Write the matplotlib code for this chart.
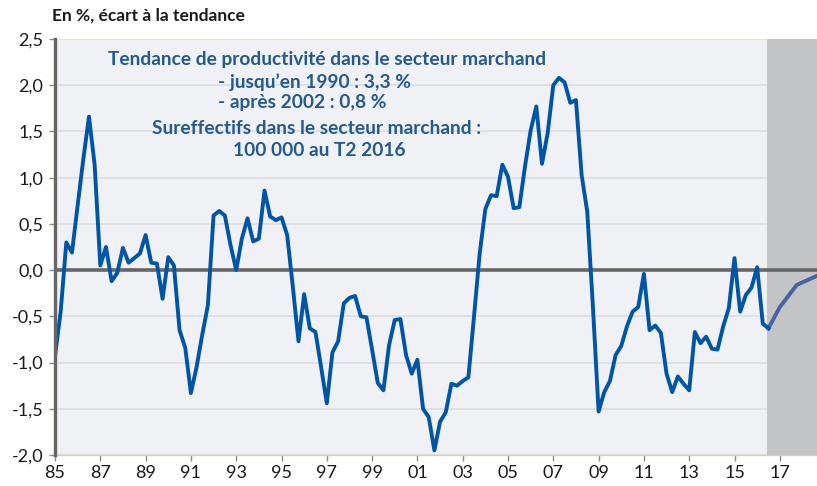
import matplotlib
matplotlib.use("Agg")
import matplotlib.pyplot as plt
import numpy as np

plt.rcParams['font.family'] = ['Lato', 'DejaVu Sans']

# écart de productivité à la tendance, trimestriel, 1985T1 -> 2016T3
start_year = 1985
hist = [-0.93, -0.45, 0.30, 0.19, 0.70, 1.20, 1.66, 1.14, 0.05, 0.25,
        -0.12, -0.03, 0.24, 0.08, 0.13, 0.18, 0.38, 0.08, 0.07, -0.31,
        0.14, 0.05, -0.65, -0.84, -1.33, -1.05, -0.70, -0.38, 0.59, 0.64,
        0.59, 0.27, 0.00, 0.34, 0.56, 0.31, 0.34, 0.86, 0.58, 0.54,
        0.57, 0.38, -0.18, -0.77, -0.26, -0.63, -0.67, -1.05, -1.44, -0.89,
        -0.77, -0.36, -0.30, -0.28, -0.50, -0.51, -0.86, -1.22, -1.30, -0.81,
        -0.54, -0.53, -0.92, -1.12, -0.97, -1.50, -1.59, -1.95, -1.64, -1.54,
        -1.23, -1.25, -1.20, -1.16, -0.50, 0.18, 0.66, 0.81, 0.80, 1.14,
        1.01, 0.67, 0.68, 1.12, 1.51, 1.77, 1.15, 1.48, 2.00, 2.08,
        2.03, 1.81, 1.84, 1.03, 0.63, -0.40, -1.53, -1.32, -1.20, -0.92,
        -0.82, -0.61, -0.45, -0.40, -0.04, -0.65, -0.60, -0.68, -1.12, -1.32,
        -1.15, -1.23, -1.30, -0.67, -0.79, -0.72, -0.85, -0.86, -0.61, -0.41,
        0.13, -0.45, -0.27, -0.19, 0.03, -0.58, -0.63]

# prévision
forecast_x = [2016.5, 2017.0, 2017.75, 2018.75]
forecast_y = [-0.63, -0.40, -0.16, -0.05]

forecast_start = 2016.43
x_ticks = list(range(1985, 2018, 2))
y_ticks = [-2.0, -1.5, -1.0, -0.5, 0.0, 0.5, 1.0, 1.5, 2.0, 2.5]

hist_x = start_year + np.arange(len(hist)) / 4.0

W, H = 817, 486
fig = plt.figure(figsize=(W / 100, H / 100), dpi=100)
ax = fig.add_axes([55 / W, 1 - 455 / H, 1 - 55 / W, (455 - 39) / H])
ax.set_facecolor('#f0f1f4')

xmax = 1985 + (W - 55) / 22.65
ax.set_xlim(1985, xmax)
ax.set_ylim(-2.0, 2.5)

for v in y_ticks:
    ax.axhline(v, color='#dcdde0', lw=1.2, zorder=1)
ax.axvspan(forecast_start, xmax, color='#c3c4c6', lw=0, zorder=2)
ax.axhline(0, color='#666666', lw=2.6, zorder=3)

ax.plot(hist_x, hist, color='#0055a5', lw=2.8, zorder=5)
ax.plot(forecast_x, forecast_y, color='#4a62a2', lw=2.8, zorder=4)

ax.set_xticks(x_ticks)
ax.set_xticklabels([f"{y % 100:02d}" for y in x_ticks])
ax.set_yticks(y_ticks)
ax.set_yticklabels([f"{v:.1f}".replace('.', ',') for v in y_ticks])
ax.tick_params(axis='y', length=4.5, width=1, color='#888888', pad=4, labelsize=13, labelcolor='#1a1a1a')
ax.tick_params(axis='x', length=4, width=1, color='#888888', pad=3, labelsize=13, labelcolor='#1a1a1a')

for s in ['top', 'right']:
    ax.spines[s].set_visible(False)
ax.spines['left'].set_color('#666666')
ax.spines['left'].set_linewidth(2.4)
ax.spines['left'].set_zorder(6)
ax.spines['bottom'].set_color('#d0d0d3')
ax.spines['bottom'].set_linewidth(1)

fig.text(52 / W, 1 - 16 / H, "En %, écart à la tendance", fontsize=12.5,
         fontweight='bold', color='#1a1a1a', va='center', ha='left')

blue = '#245a8c'
fs = 13.8
fig.text(327 / W, 1 - 60 / H, "Tendance de productivité dans le secteur marchand",
         fontsize=fs, fontweight='bold', color=blue, ha='center', va='center')
fig.text(218 / W, 1 - 82 / H, "- jusqu’en 1990 : 3,3 %",
         fontsize=fs, fontweight='bold', color=blue, ha='left', va='center')
fig.text(218 / W, 1 - 102 / H, "- après 2002 : 0,8 %",
         fontsize=fs, fontweight='bold', color=blue, ha='left', va='center')
fig.text(317 / W, 1 - 128 / H, "Sureffectifs dans le secteur marchand :",
         fontsize=fs, fontweight='bold', color=blue, ha='center', va='center')
fig.text(319 / W, 1 - 150 / H, "100 000 au T2 2016",
         fontsize=fs, fontweight='bold', color=blue, ha='center', va='center')

fig.savefig('out.png', dpi=100)
